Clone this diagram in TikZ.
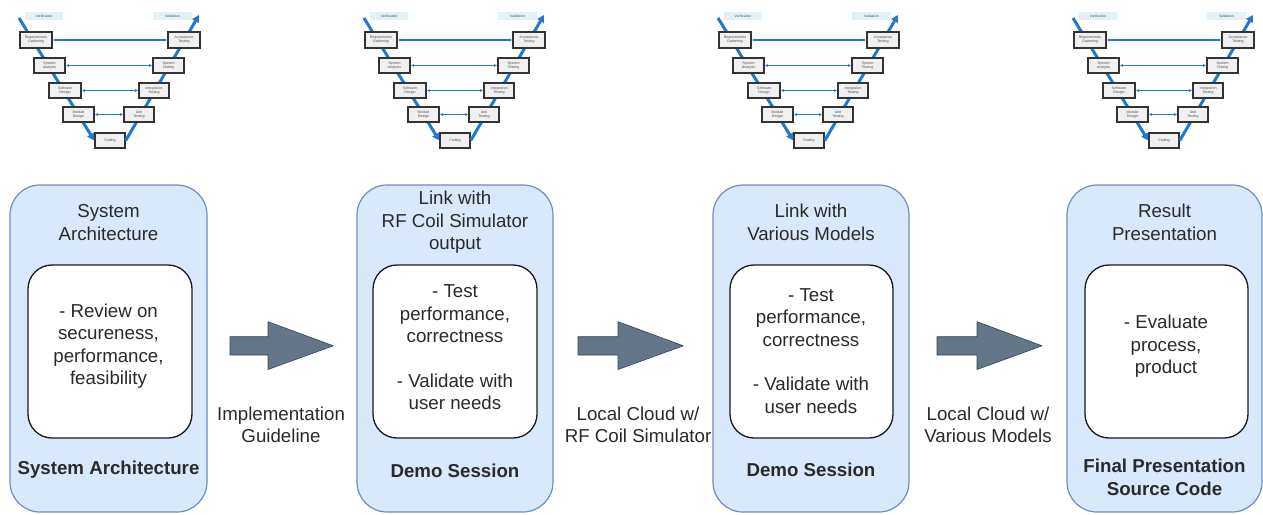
\documentclass[tikz,border=0pt]{standalone}
\usepackage{fontspec}
\setmainfont{Liberation Sans}
\usetikzlibrary{arrows.meta}

\definecolor{stageFill}{HTML}{DAE8FC}
\definecolor{stageLine}{HTML}{6C8EBF}
\definecolor{flowFill}{HTML}{647687}
\definecolor{flowLine}{HTML}{314354}
\definecolor{vBlue}{RGB}{31,120,210}
\definecolor{tagFill}{HTML}{E2F1F8}
\definecolor{txt}{HTML}{2A2A2A}

\tikzset{
  stage/.style={draw=stageLine, fill=stageFill, line width=1.2pt,
    rounded corners=30pt, minimum width=#1, minimum height=327pt, inner sep=0pt},
  detail/.style={draw=black!90, fill=white, line width=1.3pt,
    rounded corners=24pt, minimum width=#1, minimum height=173pt, inner sep=0pt},
  label/.style={text=txt, align=center, inner sep=0pt,
    font=\fontsize{18.7}{22.4}\selectfont},
  boldlabel/.style={label, font=\fontsize{18.7}{22.4}\selectfont\bfseries},
  flow/.style={fill=flowFill, draw=flowLine, line width=0.6pt, line join=round},
  phase/.style={draw=black!80, fill=black!6, line width=1.5pt,
    minimum width=#1, minimum height=15pt, inner sep=0pt, align=center,
    text=black!70, font=\fontsize{3.6}{4}\selectfont},
  phasetag/.style={fill=tagFill, minimum width=38pt, minimum height=8pt,
    inner sep=0pt, text=black!70, font=\fontsize{3.4}{4}\selectfont},
  vline/.style={draw=vBlue, line width=3pt,
    -{Triangle[length=7pt,width=7.5pt]}},
  pair/.style={draw=vBlue, line width=1.2pt,
    {Latex[length=3.2pt,width=3.2pt]}-{Latex[length=3.2pt,width=3.2pt]}},
  vmodel/.pic={
    \node[phasetag] (-ver) at (44,16) {Verification};
    \node[phasetag, minimum width=39pt] (-val) at (172.5,16) {Validation};
    \coordinate (-vs) at (19,18);
    \coordinate (-ve) at (199,15);
    \node[phase=30pt] (-cod) at (110,140.5) {Coding};
    \draw[vline] (-vs) -- (-cod.west);
    \draw[vline] (-cod.east) -- (-ve);
    \node[phase=32pt, minimum height=16pt] (-req) at (36,40) {Requirements\\Gathering};
    \node[phase=32pt, minimum height=16pt] (-acc) at (184,40) {Acceptance\\Testing};
    \node[phase=31pt] (-sya) at (49.5,65.5) {System\\Analysis};
    \node[phase=31pt] (-syt) at (168.5,65.5) {System\\Testing};
    \node[phase=32pt] (-swd) at (65,90.5) {Software\\Design};
    \node[phase=30pt] (-int) at (154,90.5) {Integration\\Testing};
    \node[phase=31pt] (-mod) at (78.5,114.5) {Module\\Design};
    \node[phase=30pt] (-uni) at (139,114.5) {Unit\\Testing};
    \draw[pair] (-req) -- (-acc);
    \draw[pair] (-sya) -- (-syt);
    \draw[pair] (-swd) -- (-int);
    \draw[pair] (-mod) -- (-uni);
  }
}

\begin{document}
\begin{tikzpicture}[x=1pt,y=-1pt]
\useasboundingbox (0,0) rectangle (1263,514);

% V-model thumbnails above each stage
\pic (v1) at (0,0) {vmodel};
\pic (v2) at (345,0) {vmodel};
\pic (v3) at (699,0) {vmodel};
\pic (v4) at (1054,0) {vmodel};

% stage 1
\node[stage=197pt] (s1) at (108.5,348.5) {};
\node[detail=164pt] (d1) at (110,351.5) {};
\node[label] (t1) at (108.5,222.5) {System\\Architecture};
\node[label] (i1) at (108.5,346) {- Review on\\secureness,\\performance,\\feasibility};
\node[boldlabel] (o1) at (108.5,470) {System Architecture};

% stage 2
\node[stage=196pt] (s2) at (455,348.5) {};
\node[detail=164pt] (d2) at (455,351.5) {};
\node[label] (t2) at (455,222.5) {Link with\\RF Coil Simulator\\output};
\node[label] (i2) at (455,347.5) {- Test\\performance,\\correctness\\[22.4pt]- Validate with\\user needs};
\node[boldlabel] (o2) at (455,471) {Demo Session};

% stage 3
\node[stage=196pt] (s3) at (811,348.5) {};
\node[detail=163pt] (d3) at (811.5,351.5) {};
\node[label] (t3) at (811,222.5) {Link with\\Various Models};
\node[label] (i3) at (811,351) {- Test\\performance,\\correctness\\[22.4pt]- Validate with\\user needs};
\node[boldlabel] (o3) at (811,470) {Demo Session};

% stage 4
\node[stage=195pt] (s4) at (1164.5,348.5) {};
\node[detail=163pt] (d4) at (1166.5,351.5) {};
\node[label] (t4) at (1164.5,222.5) {Result\\Presentation};
\node[label] (i4) at (1166,346.5) {- Evaluate\\process,\\product};
\node[boldlabel] (o4) at (1164.5,477.5) {Final Presentation\\Source Code};

% block arrows between stages
\filldraw[flow] (230,336.7) -- (268,336.7) -- (268,321.7) -- (333.3,345.8)
  -- (268,369.5) -- (268,355) -- (230,355) -- cycle;
\filldraw[flow] (578,336.7) -- (618,336.7) -- (618,321.7) -- (683.3,345.8)
  -- (618,369.5) -- (618,355) -- (578,355) -- cycle;
\filldraw[flow] (937,336.7) -- (977,336.7) -- (977,321.7) -- (1042,345.8)
  -- (977,369.5) -- (977,355) -- (937,355) -- cycle;

% hand-over labels
\node[label] (h1) at (281,425) {Implementation\\Guideline};
\node[label] (h2) at (638,425) {Local Cloud w/\\RF Coil Simulator};
\node[label] (h3) at (988,425) {Local Cloud w/\\Various Models};
\end{tikzpicture}
\end{document}
